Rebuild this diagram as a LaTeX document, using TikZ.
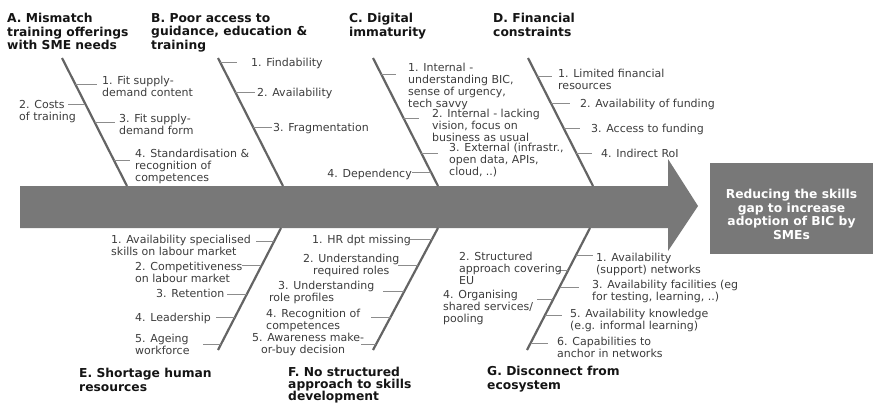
\documentclass[tikz,border=0pt]{standalone}
\usepackage{fontspec}
\setmainfont{DejaVu Sans}
\usetikzlibrary{calc}
\definecolor{arrowfill}{RGB}{120,120,120}
\definecolor{bonegray}{RGB}{100,100,100}
\definecolor{tickgray}{RGB}{140,140,140}
\definecolor{txtgray}{RGB}{60,60,60}
\definecolor{headcol}{RGB}{20,20,20}
\begin{document}
\begin{tikzpicture}[x=1pt,y=-1pt,
  lbl/.style={anchor=north west, inner sep=0pt, align=left,
    font=\fontsize{11}{12}\selectfont, text=txtgray},
  head/.style={anchor=north west, inner sep=0pt, align=left,
    font=\fontsize{12.3}{13.6}\selectfont\bfseries, text=headcol},
  bone/.style={draw=bonegray, line width=2.2pt},
  tickline/.style={draw=tickgray, line width=0.9pt},
  goal/.style={fill=arrowfill, text=white, align=center, inner sep=0pt,
    font=\fontsize{12.3}{13.4}\selectfont\bfseries}]
\useasboundingbox (0,0) rectangle (875,404);

% main spine arrow
\fill[arrowfill] (20,186) -- (668,186) -- (668,159) -- (698,206)
  -- (668,251) -- (668,228) -- (20,228) -- cycle;

% outcome box
\node[goal, minimum width=163pt, minimum height=91pt] (goalbox) at (791.5,208.5) {};
\node[goal, fill=none] (goaltext) at (791.5,214.5)
  {Reducing the skills\\gap to increase\\adoption of BIC by\\SMEs};

% bone end points
\coordinate (A0) at (62,58);   \coordinate (A1) at (127,186);
\coordinate (B0) at (218,58);  \coordinate (B1) at (283,186);
\coordinate (C0) at (373,58);  \coordinate (C1) at (438,186);
\coordinate (D0) at (528,58);  \coordinate (D1) at (593,186);
\coordinate (E0) at (281,228); \coordinate (E1) at (218,350);
\coordinate (F0) at (438,228); \coordinate (F1) at (373,350);
\coordinate (G0) at (590,228); \coordinate (G1) at (527,350);

\foreach \b in {A,B,C,D,E,F,G}{\draw[bone] (\b0) -- (\b1);}

% points where the sub-cause ticks leave the bones
\path (A0) -- (A1) coordinate[pos=0.203] (tA1) coordinate[pos=0.359] (tA2)
                   coordinate[pos=0.500] (tA3) coordinate[pos=0.797] (tA4);
\path (B0) -- (B1) coordinate[pos=0.031] (tB1) coordinate[pos=0.266] (tB2)
                   coordinate[pos=0.539] (tB3);
\path (C0) -- (C1) coordinate[pos=0.125] (tC1) coordinate[pos=0.469] (tC2)
                   coordinate[pos=0.742] (tC3) coordinate[pos=0.898] (tC4);
\path (D0) -- (D1) coordinate[pos=0.141] (tD1) coordinate[pos=0.352] (tD2)
                   coordinate[pos=0.547] (tD3) coordinate[pos=0.742] (tD4);
\path (E0) -- (E1) coordinate[pos=0.107] (tE1) coordinate[pos=0.311] (tE2)
                   coordinate[pos=0.541] (tE3) coordinate[pos=0.730] (tE4)
                   coordinate[pos=0.951] (tE5);
\path (F0) -- (F1) coordinate[pos=0.090] (tF1) coordinate[pos=0.311] (tF2)
                   coordinate[pos=0.516] (tF3) coordinate[pos=0.730] (tF4)
                   coordinate[pos=0.951] (tF5);
\path (G0) -- (G1) coordinate[pos=0.221] (tG1) coordinate[pos=0.344] (tG2)
                   coordinate[pos=0.484] (tG3) coordinate[pos=0.582] (tG4)
                   coordinate[pos=0.713] (tG5) coordinate[pos=0.943] (tG6);

% ticks
\draw[tickline] (tA1) -- ++(22,0);  \draw[tickline] (tA2) -- ++(-17,0);
\draw[tickline] (tA3) -- ++(20,0);  \draw[tickline] (tA4) -- ++(16,0);
\draw[tickline] (tB1) -- ++(17,0);  \draw[tickline] (tB2) -- ++(20,0);
\draw[tickline] (tB3) -- ++(19,0);
\draw[tickline] (tC1) -- ++(15,0);  \draw[tickline] (tC2) -- ++(16,0);
\draw[tickline] (tC3) -- ++(17,0);  \draw[tickline] (tC4) -- ++(-19,0);
\draw[tickline] (tD1) -- ++(15,0);  \draw[tickline] (tD2) -- ++(19,0);
\draw[tickline] (tD3) -- ++(16,0);  \draw[tickline] (tD4) -- ++(16,0);
\draw[tickline] (tE1) -- ++(-18,0); \draw[tickline] (tE2) -- ++(-19,0);
\draw[tickline] (tE3) -- ++(-20,0); \draw[tickline] (tE4) -- ++(-19,0);
\draw[tickline] (tE5) -- ++(-18,0);
\draw[tickline] (tF1) -- ++(-22,0); \draw[tickline] (tF2) -- ++(-20,0);
\draw[tickline] (tF3) -- ++(-21,0); \draw[tickline] (tF4) -- ++(-20,0);
\draw[tickline] (tF5) -- ++(-15,0);
\draw[tickline] (tG1) -- ++(17,0);  \draw[tickline] (tG2) -- ++(-10,0);
\draw[tickline] (tG3) -- ++(19,0);  \draw[tickline] (tG4) -- ++(-16,0);
\draw[tickline] (tG5) -- ++(17,0);  \draw[tickline] (tG6) -- ++(17,0);

% cause headings
\node[head] (hA) at (7,13.2)   {A. Mismatch\\training offerings\\with SME needs};
\node[head] (hB) at (151,13.2) {B. Poor access to\\guidance, education \&\\training};
\node[head] (hC) at (349,13.2) {C. Digital\\immaturity};
\node[head] (hD) at (493,13.2) {D. Financial\\constraints};
\node[head] (hE) at (79,368.2)  {E. Shortage human\\resources};
\node[head, font=\fontsize{12.3}{12.4}\selectfont\bfseries] (hF) at (288,366.6)
  {F. No structured\\approach to skills\\development};
\node[head] (hG) at (487,366.2) {G. Disconnect from\\ecosystem};

% sub-causes A
\node[lbl] (a1) at (102,75.6)  {1. Fit supply-\\demand content};
\node[lbl] (a2) at (19,100.6)  {2. Costs\\of training};
\node[lbl] (a3) at (119,113.6) {3. Fit supply-\\demand form};
\node[lbl] (a4) at (135,148.6) {4. Standardisation \&\\recognition of\\competences};
% sub-causes B
\node[lbl] (b1) at (251,57.6)  {1. Findability};
\node[lbl] (b2) at (257,87.6)  {2. Availability};
\node[lbl] (b3) at (273,122.6) {3. Fragmentation};
\node[lbl, anchor=north east] (b4) at (412,168.6) {4. Dependency};
% sub-causes C
\node[lbl] (c1) at (408,62.6)  {1. Internal -\\understanding BIC,\\sense of urgency,\\tech savvy};
\node[lbl] (c2) at (432,108.6) {2. Internal - lacking\\vision, focus on\\business as usual};
\node[lbl] (c3) at (449,142.6) {3. External (infrastr.,\\open data, APIs,\\cloud, ..)};
% sub-causes D
\node[lbl] (d1) at (558,68.6)  {1. Limited financial\\resources};
\node[lbl] (d2) at (580,98.6)  {2. Availability of funding};
\node[lbl] (d3) at (591,123.6) {3. Access to funding};
\node[lbl] (d4) at (601,148.6) {4. Indirect RoI};
% sub-causes E
\node[lbl] (e1) at (111,234.6) {1. Availability specialised\\skills on labour market};
\node[lbl] (e2) at (135,261.6) {2. Competitiveness\\on labour market};
\node[lbl] (e3) at (156,288.6) {3. Retention};
\node[lbl] (e4) at (135,312.6) {4. Leadership};
\node[lbl] (e5) at (135,333.6) {5. Ageing\\workforce};
% sub-causes F
\node[lbl] (f1) at (312,234.6) {1. HR dpt missing};
\node[lbl, align=center] (f2) at (303,253.6) {2. Understanding\\required roles};
\node[lbl] (f3) at (269,280.6) {\hspace*{9pt}3. Understanding\\role profiles};
\node[lbl] (f4) at (266,308.6) {4. Recognition of\\competences};
\node[lbl] (f5) at (252,332.6) {5. Awareness make-\\\hspace*{9pt}or-buy decision};
% sub-causes G
\node[lbl] (g1) at (596,252.6) {1. Availability\\(support) networks};
\node[lbl] (g2) at (459,251.6) {2. Structured\\approach covering\\EU};
\node[lbl] (g3) at (592,279.6) {3. Availability facilities (eg\\for testing, learning, ..)};
\node[lbl] (g4) at (443,289.6) {4. Organising\\shared services/\\pooling};
\node[lbl] (g5) at (570,308.6) {5. Availability knowledge\\(e.g. informal learning)};
\node[lbl] (g6) at (557,336.6) {6. Capabilities to\\anchor in networks};
\end{tikzpicture}
\end{document}
